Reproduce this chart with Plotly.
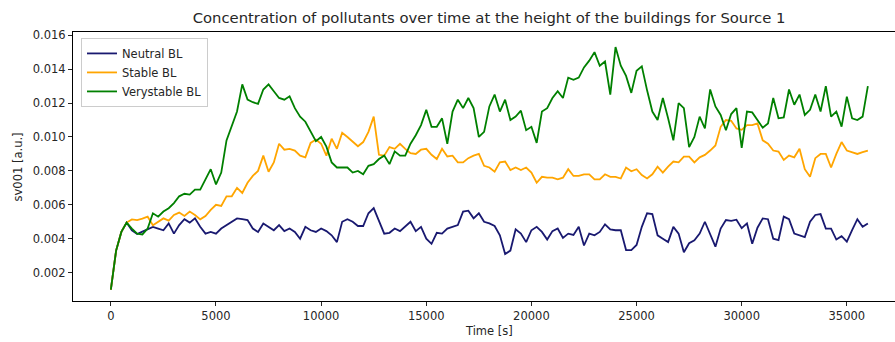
import numpy as np
import plotly.graph_objects as go

# Sampling times of the probe record [s]
time_s = np.arange(0, 36001, 250)

# Concentration at building height, in units of 1e-3 a.u.
neutral_bl_milli = [
    1.0, 3.3, 4.4, 4.95,
    4.5, 4.28, 4.42, 4.55,
    4.7, 4.6, 4.5, 4.9,
    4.3, 4.8, 5.15, 4.95,
    5.2, 4.7, 4.3, 4.4,
    4.3, 4.6, 4.8, 5.0,
    5.2, 5.15, 5.1, 4.6,
    4.4, 4.9, 4.7, 4.5,
    4.8, 4.45, 4.6, 4.4,
    4.0, 4.7, 4.5, 4.4,
    4.6, 4.45, 4.2, 3.8,
    5.0, 5.15, 5.0, 4.75,
    4.75, 5.5, 5.8, 5.0,
    4.3, 4.35, 4.6, 4.45,
    4.7, 5.0, 4.45, 4.7,
    4.0, 3.7, 4.35, 4.3,
    4.6, 4.7, 4.8, 5.6,
    5.65, 5.2, 5.5, 5.0,
    4.9, 4.75, 4.2, 3.1,
    3.3, 4.55, 4.3, 3.8,
    4.5, 4.7, 4.4, 3.95,
    4.45, 4.6, 4.05, 4.3,
    4.22, 4.7, 3.6, 4.3,
    4.2, 4.4, 4.85, 4.55,
    4.5, 4.5, 3.33, 3.33,
    3.63, 4.7, 5.5, 5.45,
    4.2, 4.0, 3.8, 4.7,
    4.3, 3.2, 3.73, 3.9,
    4.3, 5.0, 4.3, 3.53,
    4.6, 5.1, 5.05, 5.12,
    4.62, 4.9, 3.7, 4.65,
    5.2, 5.15, 4.0, 3.92,
    5.3, 5.15, 4.3, 4.2,
    4.1, 5.0, 5.4, 5.45,
    4.6, 4.6, 3.95, 4.15,
    3.83, 4.5, 5.15, 4.7,
    4.9,
]

stable_bl_milli = [
    1.0, 3.3, 4.4, 4.95,
    5.14, 5.1, 5.18, 5.3,
    4.8, 5.0, 5.2, 5.07,
    5.4, 5.54, 5.34, 5.6,
    5.4, 5.14, 5.34, 5.7,
    6.0, 5.93, 6.5, 6.5,
    7.0, 6.7, 7.3, 7.7,
    8.0, 8.9, 7.95, 8.5,
    9.6, 9.25, 9.3, 9.2,
    8.9, 8.8, 9.65, 9.85,
    9.6, 8.9, 9.9, 9.3,
    10.25, 10.0, 9.7, 9.45,
    9.7, 10.3, 11.2, 8.95,
    8.9, 9.4, 9.3, 9.6,
    9.3, 9.05, 9.0, 9.25,
    9.3, 8.95, 8.7, 9.3,
    8.85, 8.9, 8.5, 8.5,
    8.75, 8.9, 9.0, 8.3,
    8.2, 7.95, 8.5, 8.55,
    8.05, 8.2, 8.05, 8.2,
    7.9, 7.3, 7.65, 7.6,
    7.6, 7.5, 7.6, 8.1,
    7.7, 7.7, 7.8, 7.8,
    7.5, 7.5, 7.8, 7.65,
    7.65, 7.55, 8.2, 7.98,
    8.1, 7.75, 7.55, 7.8,
    8.25, 7.9, 8.25, 8.55,
    8.5, 8.84, 8.84, 8.5,
    8.8, 8.94, 9.2, 9.5,
    10.6, 11.0, 10.95, 10.5,
    10.42, 10.7, 10.7, 10.8,
    9.8, 9.6, 9.2, 9.14,
    8.65, 8.9, 8.8, 9.3,
    8.1, 7.66, 8.75, 9.0,
    9.0, 8.2, 9.0, 9.7,
    9.2, 9.1, 9.0, 9.1,
    9.2,
]

verystable_bl_milli = [
    1.0, 3.3, 4.4, 4.95,
    4.6, 4.3, 4.25, 4.6,
    5.5, 5.3, 5.6, 5.8,
    6.1, 6.5, 6.65, 6.6,
    6.9, 6.9, 7.5, 8.1,
    7.2, 7.9, 9.8, 10.6,
    11.5, 13.1, 12.2, 12.05,
    11.95, 12.8, 13.1, 12.7,
    12.3, 12.2, 12.4, 11.7,
    11.2, 10.9, 10.3, 9.75,
    10.0, 9.43, 8.5, 8.2,
    8.2, 8.2, 7.9, 8.0,
    7.8, 8.3, 8.4, 8.7,
    8.9, 8.4, 9.15, 8.9,
    8.9, 9.6, 10.1, 10.7,
    11.6, 10.6, 10.6, 11.1,
    9.6, 11.5, 12.2, 11.7,
    12.3, 11.7, 10.0, 10.3,
    11.8, 12.5, 11.5, 12.2,
    11.0, 11.2, 11.55, 10.4,
    10.6, 9.65, 11.5, 11.7,
    12.3, 12.7, 12.3, 13.5,
    13.37, 13.5, 14.1, 14.5,
    15.0, 14.2, 14.45, 12.5,
    15.3, 14.2, 13.6, 12.6,
    13.9, 14.16, 12.75, 11.5,
    11.0, 12.3, 11.1, 9.8,
    12.0, 11.7, 9.4, 10.0,
    11.2, 10.5, 12.8, 11.8,
    11.3, 10.4, 11.35, 11.7,
    9.35, 11.5, 11.45, 11.0,
    10.55, 10.8, 12.3, 11.1,
    11.15, 12.8, 11.9, 12.5,
    11.3, 11.6, 12.5, 11.5,
    13.0, 11.2, 11.5, 10.61,
    12.38, 11.1, 11.0, 11.2,
    13.0,
]

series_names = ["Neutral BL", "Stable BL", "Verystable BL"]
series_colors = ["#191970", "#ffa500", "#008000"]

x_tick_values = [0, 5000, 10000, 15000, 20000, 25000, 30000, 35000]
x_tick_labels = ["0", "5000", "10000", "15000", "20000", "25000", "30000", "35000"]
y_tick_values = [0.002, 0.004, 0.006, 0.008, 0.010, 0.012, 0.014, 0.016]
y_tick_labels = ["0.002", "0.004", "0.006", "0.008", "0.010", "0.012", "0.014", "0.016"]

series_values = [
    np.array(neutral_bl_milli) * 1e-3,
    np.array(stable_bl_milli) * 1e-3,
    np.array(verystable_bl_milli) * 1e-3,
]
for vals in series_values:
    assert len(vals) == len(time_s)

TEXT = "#262626"
FONT = "DejaVu Sans"

fig = go.Figure()
for name, color, vals in zip(series_names, series_colors, series_values):
    fig.add_trace(go.Scatter(
        x=time_s, y=vals, mode="lines", name=name,
        line=dict(color=color, width=1.8),
    ))

fig.update_layout(
    width=895, height=342,
    margin=dict(l=73, r=0, t=32, b=41),
    paper_bgcolor="white", plot_bgcolor="white",
    font=dict(family=FONT, size=11.5, color=TEXT),
    showlegend=True,
    title=dict(
        text="Concentration of pollutants over time at the height of the buildings for Source 1",
        font=dict(family=FONT, size=14.8, color=TEXT),
        x=489 / 895, xref="container", xanchor="center",
        y=1 - 18 / 342, yref="container", yanchor="middle",
    ),
    xaxis=dict(
        range=[-1800, 37290],
        tickmode="array", tickvals=x_tick_values, ticktext=x_tick_labels,
        ticks="outside", ticklen=4, tickwidth=1, tickcolor=TEXT,
        showline=True, linecolor="black", linewidth=1, mirror=True,
        showgrid=False, zeroline=False,
        tickfont=dict(size=11.5),
    ),
    yaxis=dict(
        range=[0.000327, 0.01619],
        tickmode="array", tickvals=y_tick_values, ticktext=y_tick_labels,
        ticks="outside", ticklen=4, tickwidth=1, tickcolor=TEXT,
        showline=True, linecolor="black", linewidth=1, mirror=False,
        showgrid=False, zeroline=False,
        tickfont=dict(size=11.5),
    ),
    legend=dict(
        x=0.0097, y=0.978, xanchor="left", yanchor="top",
        bgcolor="rgba(255,255,255,0.8)", bordercolor="#cccccc", borderwidth=1,
        font=dict(size=11.5, color=TEXT), itemwidth=30,
    ),
    annotations=[
        dict(text="Time [s]", xref="x", x=18000, yref="paper", y=-0.112,
             xanchor="center", yanchor="middle", showarrow=False,
             font=dict(size=11.5, color=TEXT)),
        dict(text="sv001 [a.u.]", xref="paper", x=-0.067, yref="paper", y=0.5,
             xanchor="center", yanchor="middle", textangle=-90, showarrow=False,
             font=dict(size=11.5, color=TEXT)),
    ],
)

fig.write_html("out.html")
